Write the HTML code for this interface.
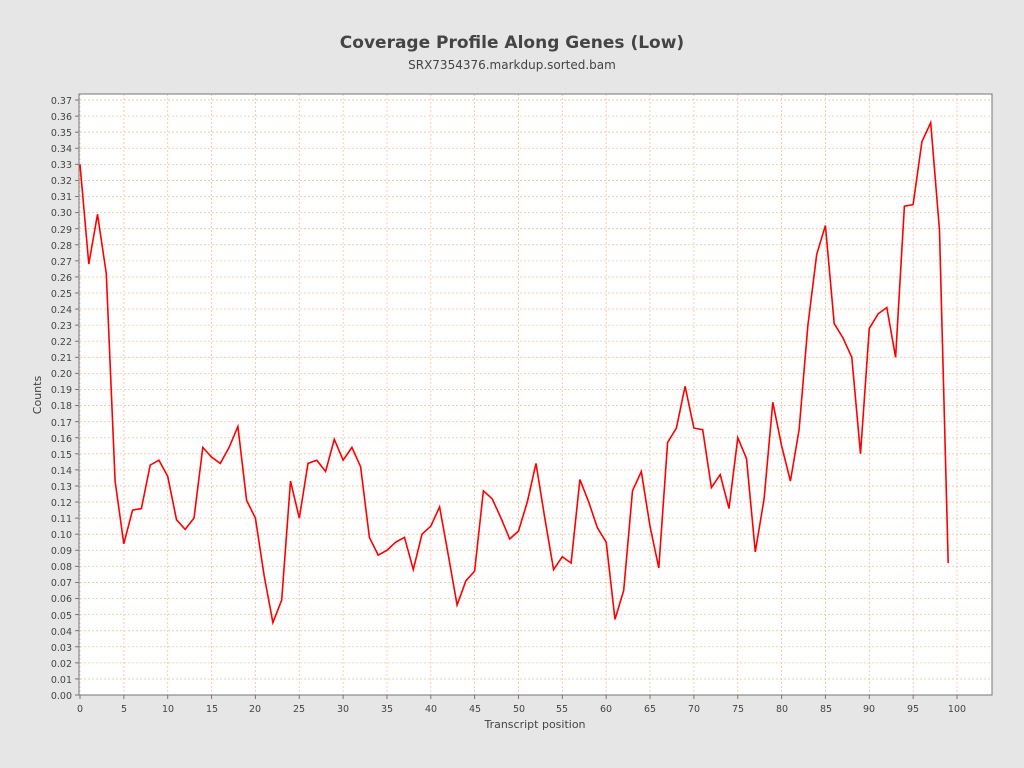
<!DOCTYPE html>
<html><head><meta charset="utf-8"><style>
html,body{margin:0;padding:0;background:#e6e6e6;}
svg{display:block;font-family:"DejaVu Sans","Liberation Sans",sans-serif;}
</style></head><body>
<svg id="s" width="1024" height="768" xmlns="http://www.w3.org/2000/svg">
<rect width="1024" height="768" fill="#e6e6e6"/>
<text x="512" y="48" text-anchor="middle" font-size="17" font-weight="bold" fill="#444">Coverage Profile Along Genes (Low)</text>
<text x="512" y="69" text-anchor="middle" font-size="12" fill="#444">SRX7354376.markdup.sorted.bam</text>
<rect x="79" y="94" width="913" height="601" fill="#fff"/>
<g id="grid" stroke="#f2c4a0" stroke-width="0.8" stroke-dasharray="2,2"></g>
<rect x="79" y="94" width="913" height="601" fill="none" stroke="#777" stroke-width="1"/>
<g id="ticks" stroke="#777" stroke-width="1"></g>
<polyline id="line" fill="none" stroke="#ff0000" stroke-width="1.6" stroke-linejoin="miter"/>
<g font-size="9.5" fill="#444" text-anchor="end">
<text x="72" y="699">0.00</text><text x="72" y="683">0.01</text><text x="72" y="667">0.02</text><text x="72" y="651">0.03</text><text x="72" y="635">0.04</text><text x="72" y="619">0.05</text><text x="72" y="602">0.06</text><text x="72" y="586">0.07</text><text x="72" y="570">0.08</text><text x="72" y="554">0.09</text><text x="72" y="538">0.10</text><text x="72" y="522">0.11</text><text x="72" y="506">0.12</text><text x="72" y="490">0.13</text><text x="72" y="474">0.14</text><text x="72" y="458">0.15</text><text x="72" y="442">0.16</text><text x="72" y="426">0.17</text><text x="72" y="409">0.18</text><text x="72" y="393">0.19</text><text x="72" y="377">0.20</text><text x="72" y="361">0.21</text><text x="72" y="345">0.22</text><text x="72" y="329">0.23</text><text x="72" y="313">0.24</text><text x="72" y="297">0.25</text><text x="72" y="281">0.26</text><text x="72" y="265">0.27</text><text x="72" y="249">0.28</text><text x="72" y="233">0.29</text><text x="72" y="216">0.30</text><text x="72" y="200">0.31</text><text x="72" y="184">0.32</text><text x="72" y="168">0.33</text><text x="72" y="152">0.34</text><text x="72" y="136">0.35</text><text x="72" y="120">0.36</text><text x="72" y="104">0.37</text>
</g>
<g font-size="9.5" fill="#444" text-anchor="middle">
<text x="80" y="712">0</text><text x="124" y="712">5</text><text x="168" y="712">10</text><text x="212" y="712">15</text><text x="255" y="712">20</text><text x="299" y="712">25</text><text x="343" y="712">30</text><text x="387" y="712">35</text><text x="431" y="712">40</text><text x="475" y="712">45</text><text x="519" y="712">50</text><text x="562" y="712">55</text><text x="606" y="712">60</text><text x="650" y="712">65</text><text x="694" y="712">70</text><text x="738" y="712">75</text><text x="782" y="712">80</text><text x="826" y="712">85</text><text x="869" y="712">90</text><text x="913" y="712">95</text><text x="957" y="712">100</text>
</g>
<text x="535" y="728" text-anchor="middle" font-size="11" fill="#444">Transcript position</text>
<text transform="translate(41,395) rotate(-90)" text-anchor="middle" font-size="11" fill="#444">Counts</text>
</svg>
<script>
var v=[0.330,0.268,0.299,0.262,0.133,0.094,0.115,0.116,0.143,0.146,0.136,0.109,0.103,0.110,0.154,0.148,0.144,0.154,0.167,0.121,0.110,0.074,0.045,0.059,0.133,0.110,0.144,0.146,0.139,0.159,0.146,0.154,0.142,0.098,0.087,0.090,0.095,0.098,0.078,0.100,0.105,0.117,0.087,0.056,0.071,0.077,0.127,0.122,0.110,0.097,0.102,0.120,0.144,0.110,0.078,0.086,0.082,0.134,0.120,0.104,0.095,0.047,0.065,0.127,0.139,0.105,0.079,0.157,0.166,0.192,0.166,0.165,0.129,0.137,0.116,0.160,0.147,0.089,0.122,0.182,0.155,0.133,0.165,0.230,0.274,0.292,0.231,0.222,0.210,0.150,0.228,0.237,0.241,0.210,0.304,0.305,0.344,0.356,0.289,0.082];
var X=function(i){return 80+i*8.77},Y=function(y){return 695-y*1608};
document.getElementById('line').setAttribute('points',v.map(function(y,i){return X(i).toFixed(1)+','+Y(y).toFixed(1)}).join(' '));
var g=document.getElementById('grid'),t=document.getElementById('ticks'),ns='http://www.w3.org/2000/svg';
function L(p,x1,y1,x2,y2){var l=document.createElementNS(ns,'line');l.setAttribute('x1',x1);l.setAttribute('y1',y1);l.setAttribute('x2',x2);l.setAttribute('y2',y2);p.appendChild(l);}
for(var k=0;k<=37;k++){var y=695-k*16.08;L(g,80,y,992,y);L(t,75,y,79,y);}
for(var k=0;k<=20;k++){var x=80+k*43.85;L(g,x,94,x,695);L(t,x,695,x,699);}
</script>
</body></html>
